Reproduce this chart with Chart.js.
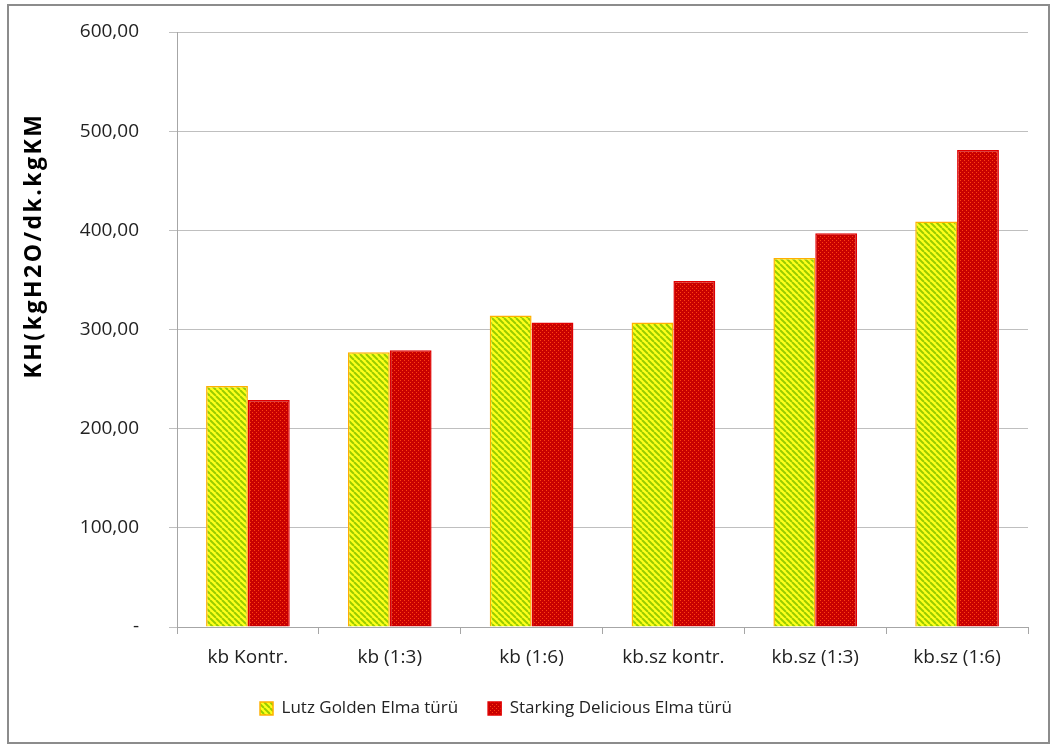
<!DOCTYPE html>
<html>
<head>
<meta charset="utf-8">
<script src="https://cdn.jsdelivr.net/npm/chart.js@4/dist/chart.umd.min.js"></script>
<style>
  html, body { margin: 0; padding: 0; background: #ffffff; }
  #wrap { position: relative; width: 1050px; height: 744px; }
  #frame { position: absolute; left: 7px; top: 4px; width: 1043px; height: 740px; border: 2px solid #8c8c8c; box-sizing: border-box; pointer-events: none; }
</style>
</head>
<body>
<div id="wrap">
  <canvas id="c" width="1050" height="744"></canvas>
  <div id="frame"></div>
</div>
<script>
const categories = ['kb Kontr.', 'kb (1:3)', 'kb (1:6)', 'kb.sz kontr.', 'kb.sz (1:3)', 'kb.sz (1:6)'];
const lutzGolden = [243, 277, 314, 307, 372, 409];
const starkingDelicious = [229, 279, 307, 349, 397, 481];
const seriesNames = ['Lutz Golden Elma türü', 'Starking Delicious Elma türü'];
const yTitle = 'KH(kgH2O/dk.kgKM';

// diagonal yellow/green stripe fill
function stripePattern() {
  const p = document.createElement('canvas');
  p.width = 6; p.height = 6;
  const g = p.getContext('2d');
  g.fillStyle = '#ffff1a';
  g.fillRect(0, 0, 6, 6);
  g.strokeStyle = '#99cc00';
  g.lineWidth = 2;
  for (let k = -6; k <= 12; k += 6) {
    g.beginPath();
    g.moveTo(k, 0);
    g.lineTo(k + 6, 6);
    g.stroke();
  }
  return g.createPattern(p, 'repeat');
}

// red fill with small lighter dots
function dotPattern() {
  const p = document.createElement('canvas');
  p.width = 4; p.height = 4;
  const g = p.getContext('2d');
  g.fillStyle = '#c80000';
  g.fillRect(0, 0, 4, 4);
  g.fillStyle = '#ff4010';
  g.fillRect(0, 0, 1, 1);
  g.fillRect(2, 2, 1, 1);
  return g.createPattern(p, 'repeat');
}

const fmt = v => v === 0 ? '-' : v.toFixed(2).replace('.', ',');

// vertical axis title, drawn with a little letter spacing
const axisTitle = {
  id: 'axisTitle',
  afterDraw(chart) {
    const { ctx, chartArea } = chart;
    ctx.save();
    ctx.translate(34, (chartArea.top + chartArea.bottom) / 2 - 84);
    ctx.rotate(-Math.PI / 2);
    ctx.font = 'bold 23px "Open Sans"';
    if ('letterSpacing' in ctx) ctx.letterSpacing = '2.5px';
    ctx.fillStyle = '#000000';
    ctx.textAlign = 'center';
    ctx.textBaseline = 'middle';
    ctx.fillText(yTitle, 0, 0);
    ctx.restore();
  }
};

// legend sits slightly left of the canvas centre
const legendShift = {
  id: 'legendShift',
  afterLayout(chart) {
    const lg = chart.legend;
    if (lg) { lg.right -= 36; lg.width -= 36; }
  }
};

new Chart(document.getElementById('c'), {
  type: 'bar',
  data: {
    labels: categories,
    datasets: [
      { label: seriesNames[0], data: lutzGolden, backgroundColor: stripePattern(), borderColor: '#ffb000', borderWidth: 1.5 },
      { label: seriesNames[1], data: starkingDelicious, backgroundColor: dotPattern(), borderColor: '#e00000', borderWidth: 1.5 }
    ]
  },
  plugins: [axisTitle, legendShift],
  options: {
    responsive: false,
    animation: false,
    devicePixelRatio: 1,
    layout: { padding: { left: 0, right: 22, top: 32, bottom: 17 } },
    datasets: { bar: { categoryPercentage: 0.59, barPercentage: 1.0 } },
    plugins: {
      legend: {
        position: 'bottom',
        labels: {
          font: { family: 'Open Sans', size: 17 },
          color: '#222222',
          boxWidth: 13,
          boxHeight: 13,
          padding: 30
        }
      },
      tooltip: { enabled: false }
    },
    scales: {
      x: {
        grid: { display: true, drawOnChartArea: false, drawTicks: true, tickLength: 7, color: '#a6a6a6', offset: true },
        border: { color: '#a6a6a6', width: 1 },
        ticks: { font: { family: 'Open Sans', size: 19 }, color: '#222222', padding: 12 },
        afterFit: s => { s.height = 43; }
      },
      y: {
        min: 0, max: 600,
        grid: { color: '#bfbfbf', tickLength: 8, lineWidth: 1 },
        border: { color: '#a6a6a6', width: 1 },
        ticks: { stepSize: 100, callback: v => fmt(v), font: { family: 'Open Sans', size: 19 }, color: '#222222', padding: 30 },
        afterFit: s => { s.width = 177; s.paddingTop = 0; s.paddingBottom = 0; }
      }
    }
  }
});
</script>
</body>
</html>
